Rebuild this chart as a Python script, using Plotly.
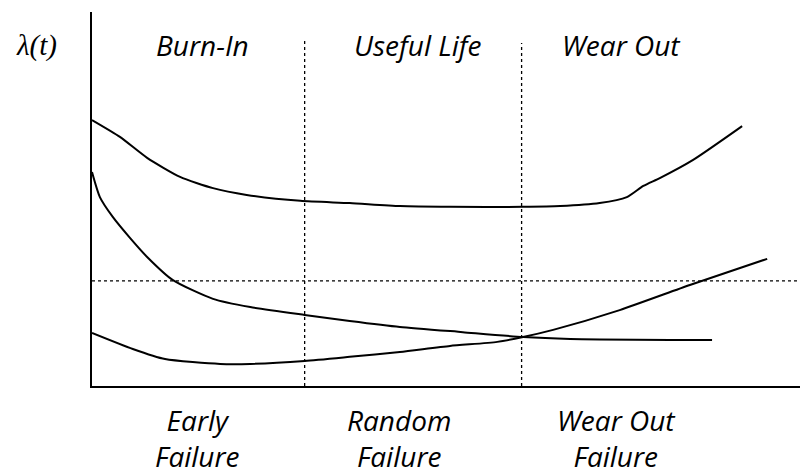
import plotly.graph_objects as go

# Overall (bathtub) failure rate
bathtub_t = [0, 0.39, 0.77, 1.23, 1.69, 2.16, 2.91, 3.60, 4.30, 5.00, 6.02, 6.54, 7.09, 7.47, 7.70, 7.93, 8.39, 9.08]
bathtub_rate = [7.11, 6.66, 6.10, 5.59, 5.29, 5.11, 4.95, 4.89, 4.81, 4.79, 4.79, 4.81, 4.89, 5.05, 5.35, 5.56, 6.04, 6.95]

# Early (infant mortality) failure rate
early_t = [0, 0.11, 0.29, 0.53, 0.77, 1.13, 1.69, 2.21, 2.97, 3.60, 4.30, 5.18, 6.02, 6.68, 8.66]
early_rate = [5.72, 5.05, 4.52, 3.96, 3.45, 2.83, 2.33, 2.11, 1.90, 1.74, 1.58, 1.44, 1.31, 1.26, 1.23]

# Wear-out failure rate
wear_t = [0, 0.57, 1.02, 1.79, 2.21, 2.97, 3.60, 4.30, 5.00, 5.66, 6.02, 6.44, 7.37, 8.35, 9.43]
wear_rate = [1.42, 0.99, 0.72, 0.59, 0.59, 0.67, 0.78, 0.91, 1.07, 1.18, 1.31, 1.50, 2.03, 2.70, 3.40]

# Phase boundaries and reference level
phase_bounds = [2.97, 6.0]
phase_bound_tops = [9.25, 9.17]
ref_level = 2.81

phase_names = ["Burn-In", "Useful Life", "Wear Out"]
phase_name_x = [1.54, 4.55, 7.4]
failure_names = ["Early<br>Failure", "Random<br>Failure", "Wear Out<br>Failure"]
failure_name_x = [1.47, 4.29, 7.32]

fig = go.Figure()

line_style = dict(color="black", width=2, shape="spline", smoothing=0.6)
for t, r in [(bathtub_t, bathtub_rate), (early_t, early_rate), (wear_t, wear_rate)]:
    fig.add_trace(go.Scatter(x=t, y=r, mode="lines", line=line_style,
                             hoverinfo="skip", showlegend=False))

dot_style = dict(color="black", width=1.3, dash="dot")
for xb, top in zip(phase_bounds, phase_bound_tops):
    fig.add_trace(go.Scatter(x=[xb, xb], y=[0, top], mode="lines", line=dot_style,
                             hoverinfo="skip", showlegend=False))
fig.add_trace(go.Scatter(x=[0, 10], y=[ref_level, ref_level], mode="lines", line=dot_style,
                         hoverinfo="skip", showlegend=False, cliponaxis=False))

label_font = dict(family="Open Sans", size=28, color="black", style="italic")
for name, xp in zip(phase_names, phase_name_x):
    fig.add_annotation(x=xp, y=9.12, xref="x", yref="y", text=name, showarrow=False,
                       font=label_font, xanchor="center", yanchor="middle")
for name, xp in zip(failure_names, failure_name_x):
    fig.add_annotation(x=xp / 10, y=-0.139, xref="paper", yref="paper", text=name,
                       showarrow=False, font=label_font, xanchor="center", yanchor="middle")

fig.add_annotation(x=-0.077, y=0.911, xref="paper", yref="paper", text="λ(t)", showarrow=False,
                   xanchor="center", yanchor="middle",
                   font=dict(family="Liberation Serif", size=29, color="black", style="italic"))

fig.update_layout(
    width=808, height=475,
    margin=dict(l=84, r=8, t=4, b=97, autoexpand=False),
    paper_bgcolor="white", plot_bgcolor="white",
    xaxis=dict(range=[0, 10], showline=True, linecolor="black", linewidth=2,
               showgrid=False, zeroline=False, showticklabels=False, ticks=""),
    yaxis=dict(range=[0, 10], showline=True, linecolor="black", linewidth=2,
               showgrid=False, zeroline=False, showticklabels=False, ticks=""),
)

fig.write_html("out.html")
